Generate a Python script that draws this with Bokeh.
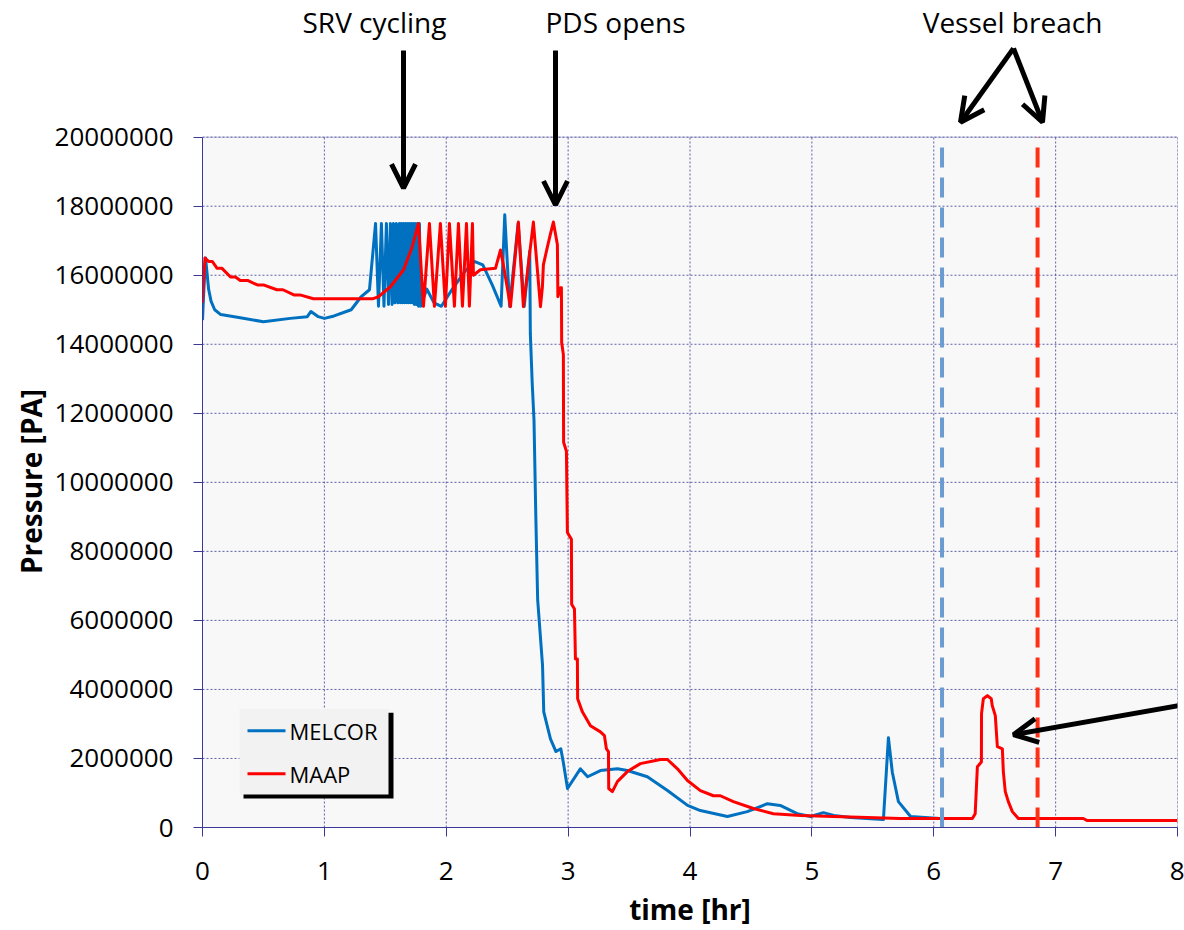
from bokeh.plotting import figure
from bokeh.models import (Range1d, FixedTicker, PrintfTickFormatter, Label, Title,
                          Arrow, OpenHead, BoxAnnotation)
from bokeh.embed import file_html
from bokeh.resources import INLINE

# ---------------- data ----------------
melcor_t = [0.00, 0.01, 0.025, 0.05, 0.07, 0.10, 0.15, 0.31, 0.50, 0.72, 0.86, 0.89, 0.95, 1.00, 1.08, 1.22, 1.30,
            1.37,
            1.420, 1.444, 1.468, 1.489, 1.509, 1.526, 1.542, 1.555, 1.567, 1.579, 1.591, 1.604, 1.616, 1.624, 1.632,
            1.641, 1.649, 1.657, 1.665, 1.673, 1.682, 1.690, 1.698, 1.706, 1.714, 1.723, 1.731, 1.739, 1.747, 1.755,
            1.764, 1.772, 1.780,
            1.79, 1.84, 1.90, 1.96, 2.05, 2.15, 2.23, 2.30, 2.38, 2.45, 2.48, 2.52, 2.59, 2.64, 2.685, 2.69, 2.705,
            2.72, 2.735, 2.75, 2.79, 2.80, 2.855, 2.90, 2.94, 2.96, 2.995, 3.10, 3.16, 3.265, 3.405, 3.486, 3.65,
            3.815, 3.98, 4.085, 4.307, 4.47, 4.635, 4.74, 4.88, 4.99, 5.094, 5.18, 5.316, 5.587, 5.628, 5.66, 5.71,
            5.81, 6.05]
melcor_p = [14.7e6, 15.5e6, 16.5e6, 15.6e6, 15.25e6, 15.0e6, 14.86e6, 14.77e6, 14.65e6, 14.75e6, 14.8e6, 14.95e6,
            14.8e6, 14.75e6, 14.82e6, 15.0e6, 15.37e6, 15.58e6,
            17.5e6, 15.1e6, 17.5e6, 15.1e6, 17.5e6, 15.15e6, 17.5e6, 15.15e6, 17.5e6, 15.2e6, 17.5e6, 15.2e6,
            17.5e6, 15.2e6, 17.5e6, 15.2e6, 17.5e6, 15.2e6, 17.5e6, 15.2e6, 17.5e6, 15.2e6, 17.5e6, 15.2e6, 17.5e6,
            15.2e6, 17.5e6, 15.15e6, 17.5e6, 15.15e6, 17.5e6, 15.1e6, 17.5e6,
            15.1e6, 15.6e6, 15.2e6, 15.1e6, 15.6e6, 16.1e6, 16.4e6, 16.3e6, 15.7e6, 15.1e6, 17.75e6, 15.1e6,
            17.5e6, 15.1e6, 16.7e6, 14.3e6, 12.9e6, 11.8e6, 9.0e6, 6.6e6, 4.7e6, 3.35e6, 2.57e6, 2.2e6, 2.28e6,
            1.9e6, 1.13e6, 1.7e6, 1.47e6, 1.65e6, 1.7e6, 1.65e6, 1.47e6, 1.07e6, 0.64e6, 0.49e6, 0.32e6, 0.46e6,
            0.69e6, 0.64e6, 0.40e6, 0.32e6, 0.43e6, 0.35e6, 0.29e6, 0.23e6, 2.6e6, 1.6e6, 0.75e6, 0.32e6, 0.26e6]

maap_t = [0.0, 0.02, 0.05, 0.08, 0.12, 0.16, 0.23, 0.27, 0.31, 0.37, 0.45, 0.50, 0.61, 0.66, 0.75, 0.80, 0.91,
          1.16, 1.40, 1.44, 1.54, 1.65, 1.72, 1.772,
          1.813, 1.862, 1.903, 1.952, 1.993, 2.026, 2.067, 2.100, 2.133, 2.166, 2.190, 2.215,
          2.223, 2.28, 2.404, 2.445, 2.469, 2.527, 2.592, 2.633, 2.715, 2.773, 2.789, 2.797, 2.83, 2.855, 2.879,
          2.912, 2.916, 2.937, 2.945, 2.947, 2.961, 2.963, 2.986, 2.994, 3.027, 3.029, 3.052, 3.06, 3.076, 3.078,
          3.117, 3.183, 3.265, 3.298, 3.314, 3.331, 3.333, 3.363, 3.404, 3.486, 3.593, 3.757, 3.815, 3.897, 3.979,
          4.085, 4.192, 4.249, 4.356, 4.52, 4.684, 4.906, 5.176, 5.455, 5.726, 6.317, 6.34, 6.358, 6.391, 6.392,
          6.407, 6.44, 6.472, 6.48, 6.505, 6.522, 6.563, 6.571, 6.587, 6.612, 6.645, 6.694, 7.227, 7.26, 8.0]
maap_p = [15.2e6, 16.5e6, 16.4e6, 16.4e6, 16.2e6, 16.2e6, 15.95e6, 15.95e6, 15.85e6, 15.85e6, 15.72e6, 15.72e6,
          15.58e6, 15.58e6, 15.43e6, 15.43e6, 15.32e6,
          15.32e6, 15.32e6, 15.37e6, 15.66e6, 16.16e6, 16.82e6, 17.5e6,
          15.1e6, 17.5e6, 15.1e6, 17.5e6, 15.1e6, 17.5e6, 15.1e6, 17.5e6, 15.1e6, 17.5e6, 15.1e6, 17.5e6,
          16.0e6, 16.16e6, 16.2e6, 16.73e6, 16.3e6, 15.09e6, 17.54e6, 15.09e6, 17.54e6, 15.09e6, 15.66e6, 16.3e6,
          16.82e6, 17.2e6, 17.54e6, 16.88e6, 15.38e6, 15.64e6, 15.64e6, 14.05e6, 13.7e6, 11.16e6, 10.9e6, 8.55e6,
          8.35e6, 6.47e6, 6.33e6, 4.88e6, 4.88e6, 3.73e6, 3.35e6, 2.95e6, 2.77e6, 2.66e6, 2.28e6, 2.2e6, 1.13e6,
          1.04e6, 1.33e6, 1.62e6, 1.85e6, 1.97e6, 1.97e6, 1.7e6, 1.36e6, 1.07e6, 0.92e6, 0.92e6, 0.75e6, 0.55e6,
          0.40e6, 0.35e6, 0.32e6, 0.29e6, 0.26e6, 0.26e6, 0.4e6, 1.76e6, 1.9e6, 3.3e6, 3.73e6, 3.82e6, 3.73e6,
          3.53e6, 3.24e6, 2.34e6, 2.28e6, 1.62e6, 1.04e6, 0.75e6, 0.46e6, 0.26e6, 0.26e6, 0.2e6, 0.2e6]

breach_times = [6.068, 6.852]          # MELCOR, MAAP vessel breach
x_ticks = [0, 1, 2, 3, 4, 5, 6, 7, 8]
y_ticks = [0, 2e6, 4e6, 6e6, 8e6, 10e6, 12e6, 14e6, 16e6, 18e6, 20e6]
series_names = ["MELCOR", "MAAP"]
annotation_texts = ["SRV cycling", "PDS opens", "Vessel breach"]

# ---------------- layout ----------------
FONT = "Open Sans"
NAVY = "#3a3a96"
BLUE = "#0070C0"
RED = "#FF0000"
W, H = 1184, 930
FRAME_L, FRAME_R_PAD, FRAME_B_PAD = 202, 7, 101
PLOT_TOP = 137                       # pixel row of the 20 MPa line
X0, X1, Y0, Y1 = 0, 8, 0, 20e6
frame_bottom = H - FRAME_B_PAD
px_per_x = (W - FRAME_L - FRAME_R_PAD) / (X1 - X0)
px_per_y = (frame_bottom - PLOT_TOP) / (Y1 - Y0)
Y_TOP = Y0 + frame_bottom / px_per_y          # frame reaches the top of the canvas (room for notes)


def px2x(px):
    return X0 + (px - FRAME_L) / px_per_x


def px2y(py):
    return Y0 + (frame_bottom - py) / px_per_y


p = figure(width=W, height=H, output_backend="svg", toolbar_location=None,
           x_range=Range1d(X0, X1), y_range=Range1d(Y0, Y_TOP),
           min_border_left=FRAME_L, min_border_right=FRAME_R_PAD, min_border_top=0,
           min_border_bottom=FRAME_B_PAD,
           background_fill_color="white", border_fill_color="white")
p.outline_line_color = None
p.grid.visible = False

for ax in (p.xaxis[0], p.yaxis[0]):
    ax.axis_line_color = NAVY
    ax.major_tick_line_color = NAVY
    ax.minor_tick_line_color = None
    ax.major_tick_in = 0
    ax.major_tick_out = 9
    ax.major_label_text_font = FONT
    ax.major_label_text_font_size = "26px"
    ax.major_label_text_color = "black"
    ax.axis_label_text_font = FONT
    ax.axis_label_text_font_style = "bold"
    ax.axis_label_text_font_size = "28px"
    ax.axis_label_text_color = "black"

p.yaxis.bounds = (Y0, Y1)
p.xaxis.ticker = FixedTicker(ticks=x_ticks)
p.yaxis.ticker = FixedTicker(ticks=y_ticks)
p.yaxis.formatter = PrintfTickFormatter(format="%d")
p.xaxis.axis_label = "time [hr]"
p.xaxis.major_label_standoff = 25
p.yaxis.major_label_standoff = 20
p.xaxis.axis_label_standoff = 7

# y-axis title: start of the (upward-reading) text placed so it is centred on the 0..20 MPa area
TITLE_LEN = 185
plot_mid = (frame_bottom + PLOT_TOP) / 2
p.add_layout(Title(text="Pressure [PA]", align="left", offset=frame_bottom - (plot_mid + TITLE_LEN / 2),
                   standoff=4, text_font=FONT, text_font_size="28px", text_font_style="bold",
                   text_color="black"),
             "left")

# plot-area background and frame
p.add_layout(BoxAnnotation(left=X0, right=X1, bottom=Y0, top=Y1, fill_color="#f8f8f8", fill_alpha=1.0,
                           line_color=None, level="image"))
# dotted grid lines
p.segment(x0=x_ticks, y0=[Y0] * len(x_ticks), x1=x_ticks, y1=[Y1] * len(x_ticks),
          line_color=NAVY, line_alpha=0.8, line_dash="2 2", line_width=1, level="underlay")
p.segment(x0=[X0] * len(y_ticks), y0=y_ticks, x1=[X1] * len(y_ticks), y1=y_ticks,
          line_color=NAVY, line_alpha=0.8, line_dash="2 2", line_width=1, level="underlay")
p.add_layout(BoxAnnotation(left=X0, right=X1, bottom=Y0, top=Y1, fill_alpha=0.0,
                           line_color=NAVY, line_width=1, level="underlay"))

# data
p.line(melcor_t, melcor_p, line_color=BLUE, line_width=3, line_join="round")
p.line(maap_t, maap_p, line_color=RED, line_width=3, line_join="round")

# vessel breach markers
p.segment(x0=breach_times[:1], y0=[Y0], x1=breach_times[:1], y1=[Y1],
          line_color="#6b9bd1", line_width=4, line_dash="20 10")
p.segment(x0=breach_times[1:], y0=[Y0], x1=breach_times[1:], y1=[Y1],
          line_color="#ff3018", line_width=4, line_dash="20 10")

# legend (box with drop shadow)
p.add_layout(BoxAnnotation(left=px2x(243), right=px2x(393), top=px2y(714), bottom=px2y(800),
                           fill_color="black", fill_alpha=1.0, line_color=None))
p.add_layout(BoxAnnotation(left=px2x(239), right=px2x(388), top=px2y(710), bottom=px2y(796),
                           fill_color="#f2f2f2", fill_alpha=1.0, line_color=None))
for row_py, name, col in zip([732, 775], series_names, [BLUE, RED]):
    p.segment(x0=[px2x(247)], y0=[px2y(row_py)], x1=[px2x(285)], y1=[px2y(row_py)],
              line_color=col, line_width=3, level="overlay")
    p.add_layout(Label(x=px2x(289), y=px2y(row_py), text=name, text_align="left", text_baseline="middle",
                       text_font=FONT, text_font_size="22px", text_color="black"))

# notes above the plot
label_pos = [(374, 22), (615, 22), (1012, 22)]
for (lx, ly), txt in zip(label_pos, annotation_texts):
    p.add_layout(Label(x=px2x(lx), y=px2y(ly), text=txt, text_align="center", text_baseline="middle",
                       text_font=FONT, text_font_size="28px", text_color="black"))

arrows = [((403, 50), (403, 188)),
          ((555, 50), (555, 205)),
          ((1013, 48), (960, 122)),
          ((1013, 48), (1042, 122)),
          ((1200, 703), (1013, 736))]
for (xs, ys), (xe, ye) in arrows:
    p.add_layout(Arrow(x_start=px2x(xs), y_start=px2y(ys), x_end=px2x(xe), y_end=px2y(ye),
                       line_color="black", line_width=5,
                       end=OpenHead(size=24, line_width=5, line_color="black")))

open("out.html", "w").write(file_html(p, INLINE))
